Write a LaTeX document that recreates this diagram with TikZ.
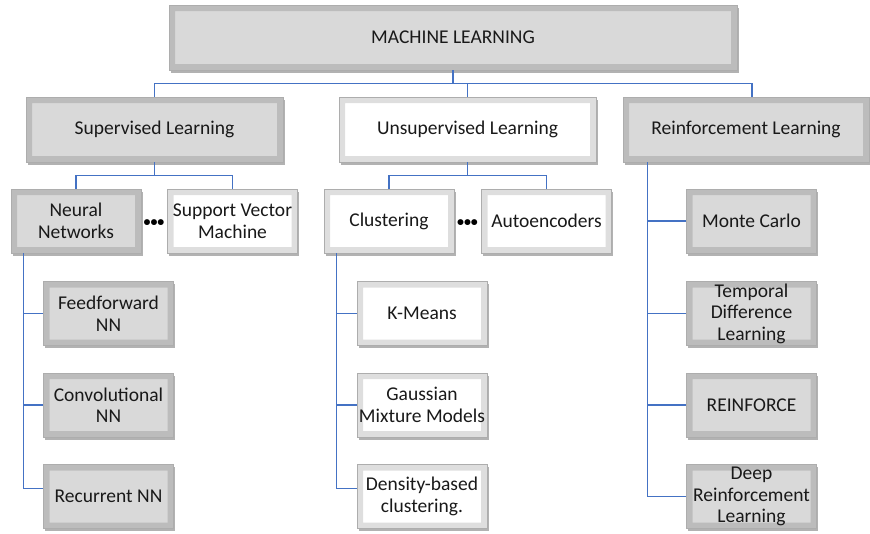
\documentclass[tikz,border=0pt]{standalone}
\usepackage{fontspec}
\setmainfont{Carlito}
\usetikzlibrary{shadows,calc}
\definecolor{lineblue}{HTML}{4472C4}
\definecolor{boxgray}{HTML}{D9D9D9}
\tikzset{
  bev/.style={rectangle, draw=black!32, line width=0.8pt, fill=#1,
    minimum width=130pt, minimum height=64pt, inner sep=1pt, align=center,
    font=\fontsize{19.5}{21.5}\selectfont, text=black!90,
    drop shadow={shadow xshift=1.5pt, shadow yshift=-2.5pt, opacity=0.3, fill=black},
    path picture={
      \path let \p1=(path picture bounding box.south west),
                \p2=(path picture bounding box.north east) in
        [fill=white, fill opacity=0.35] (\x1,\y2) -- (\x2,\y2) -- (\x2-6pt,\y2-6pt) -- (\x1+6pt,\y2-6pt) -- cycle
        [fill=white, fill opacity=0.7] (\x1,\y1) -- (\x1,\y2) -- (\x1+6pt,\y2-6pt) -- (\x1+6pt,\y1+6pt) -- cycle
        [fill=black, fill opacity=0.05] (\x2,\y1) -- (\x2,\y2) -- (\x2-6pt,\y2-6pt) -- (\x2-6pt,\y1+6pt) -- cycle
        [fill=black, fill opacity=0.13] (\x1,\y1) -- (\x2,\y1) -- (\x2-6pt,\y1+6pt) -- (\x1+6pt,\y1+6pt) -- cycle;
    }},
  conn/.style={draw=lineblue, line width=1.5pt},
  dots/.style={inner sep=0pt, font=\fontsize{14}{14}\selectfont\bfseries}
}
\begin{document}
\begin{tikzpicture}[x=1pt,y=-1pt]
\useasboundingbox (0,0) rectangle (870,533);
% level 0
\node[bev=boxgray, minimum width=568pt, minimum height=65pt] (ml) at (453,37.5) {MACHINE LEARNING};
% level 1
\node[bev=boxgray, minimum width=257pt, minimum height=65pt] (sup) at (154.5,129.5) {Supervised Learning};
\node[bev=white, minimum width=257pt, minimum height=65pt] (uns) at (467.5,129.5) {Unsupervised Learning};
\node[bev=boxgray, minimum width=246pt, minimum height=65pt] (rei) at (746,129.5) {Reinforcement Learning};
% level 2
\node[bev=boxgray] (nn) at (76,221) {Neural\\Networks};
\node[bev=white] (svm) at (232.5,221) {Support Vector\\Machine};
\node[bev=white] (clu) at (389,221) {Clustering};
\node[bev=white] (aut) at (546.5,221) {Autoencoders};
\node[bev=boxgray] (mc) at (751.5,221) {Monte Carlo};
% level 3
\node[bev=boxgray] (ff) at (108.5,313.5) {Feedforward\\NN};
\node[bev=boxgray] (conv) at (108.5,405) {Convolutional\\NN};
\node[bev=boxgray] (rec) at (108.5,496.5) {Recurrent NN};
\node[bev=white] (km) at (422,313.5) {K-Means};
\node[bev=white] (gmm) at (422,405) {Gaussian\\Mixture Models};
\node[bev=white] (dens) at (422,496.5) {Density-based\\clustering.};
\node[bev=boxgray] (td) at (751.5,313.5) {Temporal\\Difference\\Learning};
\node[bev=boxgray] (reinf) at (751.5,405) {REINFORCE};
\node[bev=boxgray] (drl) at (751.5,496.5) {Deep\\Reinforcement\\Learning};
% dots
\node[dots] (d1) at (154,223) {•••};
\node[dots] (d2) at (467.5,223) {•••};
% connectors
\coordinate (bus) at ($(ml.south)+(0,13)$);
\draw[conn] (ml.south) -- (bus) -| (sup.north);
\draw[conn] (bus) -| (uns.north);
\draw[conn] (bus) -| ($(rei.north)+(6,0)$);
\coordinate (sbus) at ($(sup.south)+(0,13)$);
\draw[conn] (sup.south) -- (sbus) -| (nn.north);
\draw[conn] (sbus) -| (svm.north);
\coordinate (ubus) at ($(uns.south)+(0,13)$);
\draw[conn] (uns.south) -- (ubus) -| (clu.north);
\draw[conn] (ubus) -| (aut.north);
\coordinate (lt) at ($(nn.south west)+(13,0)$);
\draw[conn] (lt) |- (ff.west);
\draw[conn] (lt) |- (conv.west);
\draw[conn] (lt) |- ($(rec.west)+(0,-8)$);
\coordinate (mt) at ($(clu.south west)+(13,0)$);
\draw[conn] (mt) |- (km.west);
\draw[conn] (mt) |- (gmm.west);
\draw[conn] (mt) |- ($(dens.west)+(0,-8)$);
\coordinate (rt) at ($(rei.south west)+(25,0)$);
\draw[conn] (rt) |- (mc.west);
\draw[conn] (rt) |- (td.west);
\draw[conn] (rt) |- (reinf.west);
\draw[conn] (rt) |- (drl.west);
\end{tikzpicture}
\end{document}
